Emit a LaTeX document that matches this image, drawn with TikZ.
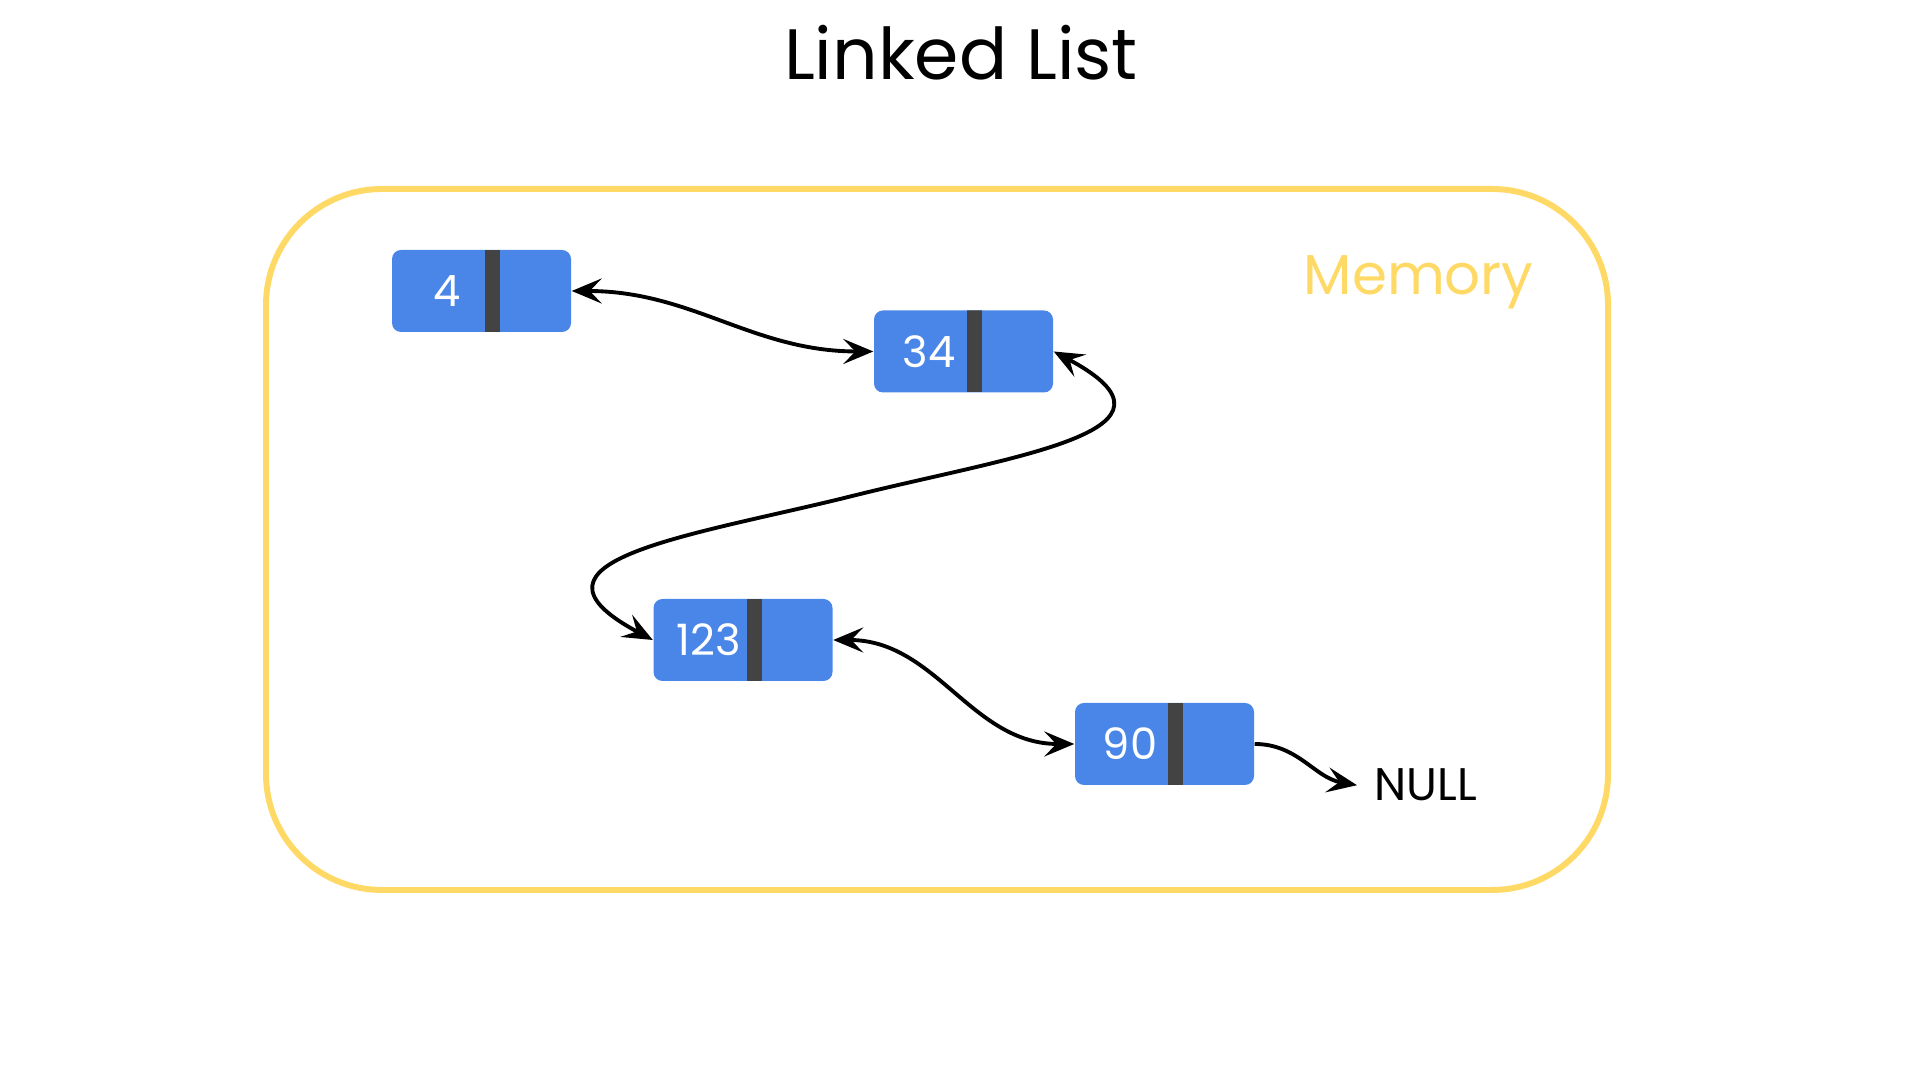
\documentclass[tikz,border=0pt]{standalone}
\usepackage{fontspec}
\setmainfont{Poppins}
\usetikzlibrary{positioning,arrows.meta,calc}
\definecolor{llBlue}{HTML}{4A86E8}
\definecolor{llBar}{HTML}{434343}
\definecolor{llYellow}{HTML}{FFD966}
\newcommand{\cellval}[1]{\makebox[1.79cm][l]{\makebox[1.1cm]{#1}}}
\tikzset{
  cell/.style={rectangle, rounded corners=0.09cm, fill=llBlue, text=white,
    font=\fontsize{12.3}{14}\selectfont, minimum width=1.79cm,
    minimum height=0.82cm, inner sep=0pt,
    path picture={\fill[llBar, sharp corners]
      ([xshift=0.93cm]path picture bounding box.north west) rectangle
      ([xshift=1.08cm]path picture bounding box.south west);}},
  memory/.style={rectangle, draw=llYellow, line width=1.7pt,
    rounded corners=1.16cm, minimum width=13.42cm, minimum height=7.01cm},
  link/.style={{Stealth[length=3mm, width=2.5mm, inset=1.2mm]}-{Stealth[length=3mm, width=2.5mm, inset=1.2mm]},
    line width=1.1pt},
  endlink/.style={-{Stealth[length=3mm, width=2.5mm, inset=1.2mm]}, line width=1.1pt},
}

\begin{document}
\begin{tikzpicture}
\useasboundingbox (0,0) rectangle (19.2,10.8);

% ---------- title ----------
\node[anchor=base, inner sep=0pt, font=\fontsize{20.3}{24}\selectfont] (title)
  at (9.61,10.0) {Linked List};

% ---------- memory area ----------
\node[memory] (memory) at (9.37,5.405) {};
\node[anchor=base west, inner sep=0pt, text=llYellow,
      font=\fontsize{16}{20}\selectfont] (memory-lbl) at (13.03,7.85) {Memory};

% ---------- list cells ----------
\node[cell] (n4) at (4.815,7.89) {\cellval{4}};
\node[cell] (n34) at (9.635,7.285) {\cellval{34}};
\node[cell] (n123) at (7.43,4.40) {\cellval{123}};
\node[cell] (n90) at (11.645,3.36) {\cellval{90}};

% ---------- end of list ----------
\node[anchor=base west, inner xsep=0.17cm, inner ysep=0pt,
      font=\fontsize{13}{16}\selectfont] (null) at (13.57,2.79) {NULL};

% ================= Links =================

% 4 <-> 34
\draw[link] (n4.east) to[out=0, in=180] (n34.west);

% 34 <-> 123 (long way round)
\draw[link] (n34.east) .. controls +(1.5,-0.8) and +(1.6,0.4) ..
  ($(n34.east)!0.5!(n123.west)$) .. controls +(-1.6,-0.4) and +(-1.5,0.8) ..
  (n123.west);

% 123 <-> 90
\draw[link] (n123.east) to[out=0, in=180] (n90.west);

% 90 -> NULL
\draw[endlink] (n90.east) to[out=0, in=170] (null.west);

\end{tikzpicture}
\end{document}
